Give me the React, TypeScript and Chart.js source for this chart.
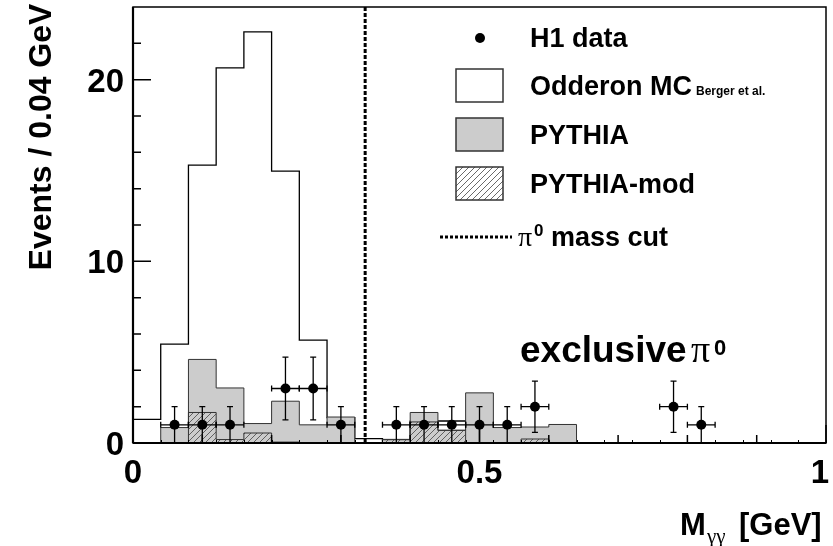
import React, { useEffect, useRef } from 'react';
import { Chart, registerables } from 'chart.js';

Chart.register(...registerables);

// ---- data ----
const BIN_EDGES = [0, 0.04, 0.08, 0.12, 0.16, 0.2, 0.24, 0.28, 0.32, 0.36, 0.4, 0.44, 0.48, 0.52, 0.56, 0.6, 0.64, 0.68, 0.72, 0.76, 0.8, 0.84, 0.88, 0.92, 0.96, 1.0];
const ODDERON = [1.3, 5.44, 15.3, 20.65, 22.63, 14.97, 5.66, 1.4, 0.24, 0.1, 1.2, 1.21, 0, 0, 0, 0, 0, 0, 0, 0, 0, 0, 0, 0, 0];
const PYTHIA = [0, 0.85, 4.6, 3.03, 1.07, 2.3, 1.0, 1.43, 0, 0.2, 1.68, 0.7, 2.76, 0.85, 0.88, 1.02, 0, 0, 0, 0, 0, 0, 0, 0, 0];
const PYTHIA_MOD = [0, 0, 1.68, 0.19, 0.55, 0.05, 0, 0, 0, 0.18, 1.16, 0.7, 0, 0, 0.22, 0, 0, 0, 0, 0, 0, 0, 0, 0, 0];

const DATA_X = [0.06, 0.1, 0.14, 0.22, 0.26, 0.3, 0.38, 0.42, 0.46, 0.5, 0.54, 0.58, 0.78, 0.82];
const DATA_Y = [1, 1, 1, 3, 3, 1, 1, 1, 1, 1, 1, 2, 2, 1];
const DATA_ERR = [1, 1, 1, 1.73, 1.73, 1, 1, 1, 1, 1, 1, 1.41, 1.41, 1];
const DATA_XERR = 0.02;

const CUT = 0.335;

const X_MAJOR = [0, 0.5, 1];
const X_MAJOR_LABELS = ['0', '0.5', '1'];
const X_MINOR = [0.1, 0.2, 0.3, 0.4, 0.6, 0.7, 0.8, 0.9];
const Y_MAJOR = [0, 10, 20];
const Y_MAJOR_LABELS = ['0', '10', '20'];
const Y_MINOR = [2, 4, 6, 8, 12, 14, 16, 18, 22];
const Y_MAX = 24;

const FONT = '"Liberation Sans", Arial, Helvetica, sans-serif';
const SERIF = '"Liberation Serif", "DejaVu Serif", serif';

function histPoints(vals: number[]) {
  const pts: { x: number; y: number }[] = [{ x: BIN_EDGES[0], y: 0 }];
  vals.forEach((v, i) => pts.push({ x: BIN_EDGES[i], y: v }));
  pts.push({ x: BIN_EDGES[vals.length], y: 0 });
  return pts;
}

function makeHatch(bg: string | null): CanvasPattern | string {
  const s = 6;
  const c = document.createElement('canvas');
  c.width = s;
  c.height = s;
  const g = c.getContext('2d');
  if (!g) return '#999';
  if (bg) {
    g.fillStyle = bg;
    g.fillRect(0, 0, s, s);
  }
  g.strokeStyle = '#444';
  g.lineWidth = 0.8;
  g.beginPath();
  g.moveTo(-1, s + 1);
  g.lineTo(s + 1, -1);
  g.moveTo(-1, 1);
  g.lineTo(1, -1);
  g.moveTo(s - 1, s + 1);
  g.lineTo(s + 1, s - 1);
  g.stroke();
  return g.createPattern(c, 'repeat') || '#999';
}

const GRAY = '#cccccc';

const overlayPlugin = {
  id: 'overlay',
  afterDatasetsDraw(chart: any) {
    const { ctx, scales } = chart;
    const x = scales.x;
    const y = scales.y;
    ctx.save();
    ctx.strokeStyle = '#000';
    ctx.lineWidth = 1.3;
    const cap = 3;
    DATA_X.forEach((xv, i) => {
      const px = x.getPixelForValue(xv);
      const py = y.getPixelForValue(DATA_Y[i]);
      const xl = x.getPixelForValue(xv - DATA_XERR);
      const xr = x.getPixelForValue(xv + DATA_XERR);
      const yt = y.getPixelForValue(DATA_Y[i] + DATA_ERR[i]);
      const yb = y.getPixelForValue(Math.max(0, DATA_Y[i] - DATA_ERR[i]));
      ctx.beginPath();
      ctx.moveTo(xl, py);
      ctx.lineTo(xr, py);
      ctx.moveTo(xl, py - cap);
      ctx.lineTo(xl, py + cap);
      ctx.moveTo(xr, py - cap);
      ctx.lineTo(xr, py + cap);
      ctx.moveTo(px, yt);
      ctx.lineTo(px, yb);
      ctx.moveTo(px - cap, yt);
      ctx.lineTo(px + cap, yt);
      ctx.moveTo(px - cap, yb);
      ctx.lineTo(px + cap, yb);
      ctx.stroke();
    });
    ctx.restore();
  },
  afterDraw(chart: any) {
    const { ctx, chartArea: a, scales } = chart;
    const x = scales.x;
    const y = scales.y;
    ctx.save();
    // bin-edge stubs
    ctx.strokeStyle = '#000';
    ctx.lineWidth = 1;
    ctx.beginPath();
    BIN_EDGES.forEach((e) => {
      const px = Math.round(x.getPixelForValue(e)) + 0.5;
      ctx.moveTo(px, a.bottom);
      ctx.lineTo(px, a.bottom - 3);
    });
    ctx.stroke();
    // ticks
    ctx.lineWidth = 1.5;
    ctx.beginPath();
    X_MAJOR.forEach((v) => {
      const px = x.getPixelForValue(v);
      ctx.moveTo(px, a.bottom);
      ctx.lineTo(px, a.bottom - 18);
    });
    X_MINOR.forEach((v) => {
      const px = x.getPixelForValue(v);
      ctx.moveTo(px, a.bottom);
      ctx.lineTo(px, a.bottom - 8);
    });
    Y_MAJOR.forEach((v) => {
      const py = y.getPixelForValue(v);
      ctx.moveTo(a.left, py);
      ctx.lineTo(a.left + 18, py);
    });
    Y_MINOR.forEach((v) => {
      const py = y.getPixelForValue(v);
      ctx.moveTo(a.left, py);
      ctx.lineTo(a.left + 8, py);
    });
    ctx.stroke();
    // frame
    ctx.lineWidth = 1.5;
    ctx.strokeRect(a.left, a.top, a.right - a.left, a.bottom - a.top);
    ctx.lineWidth = 2.2;
    ctx.beginPath();
    ctx.moveTo(a.left, a.bottom);
    ctx.lineTo(a.right, a.bottom);
    ctx.moveTo(a.left, a.top);
    ctx.lineTo(a.left, a.bottom);
    ctx.stroke();

    // tick labels
    ctx.fillStyle = '#000';
    ctx.font = `bold 33px ${FONT}`;
    ctx.textBaseline = 'alphabetic';
    X_MAJOR.forEach((v, i) => {
      const px = x.getPixelForValue(v);
      if (i === X_MAJOR.length - 1) {
        ctx.textAlign = 'right';
        ctx.fillText(X_MAJOR_LABELS[i], px + 3, a.bottom + 40);
      } else {
        ctx.textAlign = 'center';
        ctx.fillText(X_MAJOR_LABELS[i], px, a.bottom + 40);
      }
    });
    ctx.textAlign = 'right';
    Y_MAJOR.forEach((v, i) => {
      ctx.fillText(Y_MAJOR_LABELS[i], a.left - 9, y.getPixelForValue(v) + 12);
    });

    // axis titles
    ctx.save();
    ctx.translate(51, 137);
    ctx.rotate(-Math.PI / 2);
    ctx.textAlign = 'center';
    ctx.font = `bold 32px ${FONT}`;
    ctx.fillText('Events / 0.04 GeV', 0, 0);
    ctx.restore();

    ctx.textAlign = 'left';
    ctx.font = `bold 31px ${FONT}`;
    ctx.fillText('M', 680, 535);
    ctx.font = `21px ${SERIF}`;
    ctx.fillText('\u03b3\u03b3', 707, 543);
    ctx.font = `bold 31px ${FONT}`;
    ctx.fillText('[GeV]', 739, 535);

    // legend
    const tx = 530;
    ctx.font = `bold 27px ${FONT}`;
    ctx.fillText('H1 data', tx, 47);
    ctx.beginPath();
    ctx.arc(480, 38, 5, 0, Math.PI * 2);
    ctx.fill();

    ctx.fillText('Odderon MC', tx, 95);
    ctx.font = `bold 12px ${FONT}`;
    ctx.fillText('Berger et al.', 696, 95);
    ctx.font = `bold 27px ${FONT}`;
    ctx.fillText('PYTHIA', tx, 144);
    ctx.fillText('PYTHIA-mod', tx, 193);

    ctx.lineWidth = 1.5;
    ctx.strokeStyle = '#333';
    ctx.fillStyle = '#fff';
    ctx.fillRect(456, 69, 47, 33);
    ctx.strokeRect(456, 69, 47, 33);
    ctx.fillStyle = GRAY;
    ctx.fillRect(456, 118, 47, 33);
    ctx.strokeRect(456, 118, 47, 33);
    ctx.fillStyle = makeHatch('#fff');
    ctx.fillRect(456, 167, 47, 33);
    ctx.strokeRect(456, 167, 47, 33);

    ctx.strokeStyle = '#000';
    ctx.lineWidth = 3;
    ctx.setLineDash([3, 2]);
    ctx.beginPath();
    ctx.moveTo(440, 237);
    ctx.lineTo(512, 237);
    ctx.stroke();
    ctx.setLineDash([]);

    ctx.fillStyle = '#000';
    ctx.font = `28px ${SERIF}`;
    ctx.fillText('\u03c0', 518, 246);
    ctx.font = `bold 17px ${FONT}`;
    ctx.fillText('0', 534, 236);
    ctx.font = `bold 27px ${FONT}`;
    ctx.fillText('mass cut', 551, 246);

    // annotation
    ctx.font = `bold 37px ${FONT}`;
    ctx.fillText('exclusive', 520, 362);
    ctx.font = `38px ${SERIF}`;
    ctx.fillText('\u03c0', 691, 362);
    ctx.font = `bold 22px ${FONT}`;
    ctx.fillText('0', 714, 355);

    ctx.restore();
  },
};

export default function App() {
  const ref = useRef<HTMLCanvasElement | null>(null);
  useEffect(() => {
    const canvas = ref.current;
    if (!canvas) return;
    const hatch = makeHatch(null);
    const chart = new Chart(canvas, {
      type: 'line',
      data: {
        datasets: [
          {
            label: 'H1 data',
            data: DATA_X.map((xv, i) => ({ x: xv, y: DATA_Y[i] })),
            showLine: false,
            pointRadius: 5,
            pointBackgroundColor: '#000',
            pointBorderColor: '#000',
            pointBorderWidth: 0,
            order: 0,
          },
          {
            label: 'cut',
            data: [
              { x: CUT, y: 0 },
              { x: CUT, y: Y_MAX },
            ],
            borderColor: '#000',
            borderWidth: 3,
            borderDash: [4, 2],
            pointRadius: 0,
            fill: false,
            order: 1,
          },
          {
            label: 'PYTHIA-mod',
            data: histPoints(PYTHIA_MOD),
            stepped: true,
            borderColor: '#333',
            borderWidth: 1,
            backgroundColor: hatch as any,
            fill: 'origin',
            pointRadius: 0,
            order: 2,
          },
          {
            label: 'PYTHIA',
            data: histPoints(PYTHIA),
            stepped: true,
            borderColor: '#333',
            borderWidth: 1,
            backgroundColor: GRAY,
            fill: 'origin',
            pointRadius: 0,
            order: 3,
          },
          {
            label: 'Odderon MC',
            data: histPoints(ODDERON),
            stepped: true,
            borderColor: '#000',
            borderWidth: 1.3,
            backgroundColor: '#fff',
            fill: 'origin',
            pointRadius: 0,
            order: 4,
          },
        ],
      },
      options: {
        animation: false,
        responsive: false,
        maintainAspectRatio: false,
        devicePixelRatio: 1,
        layout: { padding: { left: 133, right: 7, top: 7, bottom: 103 } },
        plugins: { legend: { display: false }, tooltip: { enabled: false } },
        events: [],
        scales: {
          x: { type: 'linear', min: 0, max: 1, display: false },
          y: { type: 'linear', min: 0, max: Y_MAX, display: false },
        },
      },
      plugins: [overlayPlugin],
    });
    return () => chart.destroy();
  }, []);
  return (
    <div style={{ position: 'fixed', left: 0, top: 0, width: 833, height: 546, background: '#fff' }}>
      <canvas ref={ref} width={833} height={546} style={{ display: 'block', width: 833, height: 546 }} />
    </div>
  );
}
